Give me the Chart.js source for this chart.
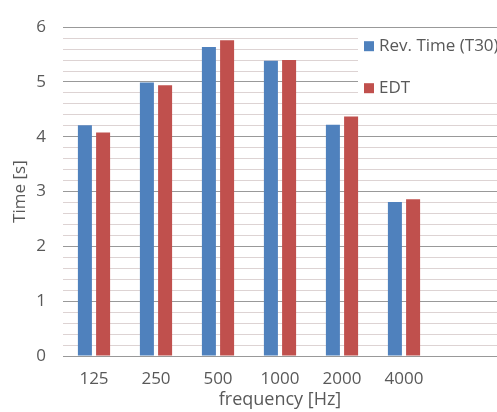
<!DOCTYPE html>
<html><head><meta charset="utf-8">
<script src="https://cdn.jsdelivr.net/npm/chart.js@4.4.0/dist/chart.umd.min.js"></script>
<style>html,body{margin:0;padding:0;background:#fff;} #wrap{width:497px;height:412px;position:relative;}</style>
</head><body><div id="wrap"><canvas id="c"></canvas></div>
<script>
const categories = ['125', '250', '500', '1000', '2000', '4000', ''];
const revTimeT30 = [4.21, 4.99, 5.64, 5.39, 4.22, 2.81, null];
const edt = [4.08, 4.94, 5.76, 5.40, 4.37, 2.86, null];
const yTickLabels = [0, 1, 2, 3, 4, 5, 6];
const seriesNames = ['Rev. Time (T30)', 'EDT'];
const seriesColors = ['#4F81BD', '#C0504D'];
const xTitle = 'frequency [Hz]';
const yTitle = 'Time [s]';

const textColor = '#595959';
const fontFamily = "'Open Sans', 'Liberation Sans', sans-serif";

const isMajor = v => Math.abs(v - Math.round(v)) < 1e-6 && yTickLabels.includes(Math.round(v));

const overlayLegend = {
  id: 'overlayLegend',
  afterDraw(chart) {
    const ctx = chart.ctx;
    const a = chart.chartArea;
    const x0 = a.right - 139;
    const y0 = a.top + 5;
    ctx.save();
    ctx.fillStyle = '#ffffff';
    ctx.fillRect(x0, y0, a.right - x0, 69);
    ctx.font = '17px ' + fontFamily;
    ctx.textBaseline = 'middle';
    ctx.textAlign = 'left';
    chart.data.datasets.forEach((ds, i) => {
      const cy = y0 + 14 + i * 42;
      ctx.fillStyle = ds.backgroundColor;
      ctx.fillRect(x0 + 6, cy - 5, 10, 10);
      ctx.fillStyle = textColor;
      ctx.fillText(ds.label, x0 + 21, cy);
    });
    ctx.restore();
  }
};

new Chart(document.getElementById('c'), {
  type: 'bar',
  data: {
    labels: categories,
    datasets: [
      { label: seriesNames[0], data: revTimeT30, backgroundColor: seriesColors[0], categoryPercentage: 0.587, barPercentage: 0.77 },
      { label: seriesNames[1], data: edt, backgroundColor: seriesColors[1], categoryPercentage: 0.587, barPercentage: 0.77 }
    ]
  },
  options: {
    responsive: true,
    maintainAspectRatio: false,
    animation: false,
    devicePixelRatio: 1,
    layout: { padding: { top: 18, right: 0, bottom: 0, left: 0 } },
    plugins: { legend: { display: false }, tooltip: { enabled: false } },
    scales: {
      x: {
        grid: { display: false, drawTicks: false },
        border: { display: false },
        ticks: { color: textColor, font: { family: fontFamily, size: 17 }, padding: 13, maxRotation: 0 },
        title: { display: true, text: xTitle, color: textColor, font: { family: fontFamily, size: 18 }, padding: { top: 0, bottom: 1 } },
        afterFit(scale) { scale.height = 56; }
      },
      y: {
        min: 0, max: 6,
        grid: {
          drawTicks: false,
          color: ctx => isMajor(ctx.tick.value) ? '#999999' : '#DDD3D3',
          lineWidth: 1
        },
        border: { display: false },
        ticks: {
          stepSize: 0.2,
          autoSkip: false,
          color: textColor,
          font: { family: fontFamily, size: 17 },
          padding: 17,
          callback: v => isMajor(v) ? String(Math.round(v)) : ''
        },
        title: { display: true, text: yTitle, color: textColor, font: { family: fontFamily, size: 17 }, padding: { top: 10, bottom: 0 } },
        afterFit(scale) { scale.width = 63; }
      }
    }
  },
  plugins: [overlayLegend]
});
</script>
</body></html>
